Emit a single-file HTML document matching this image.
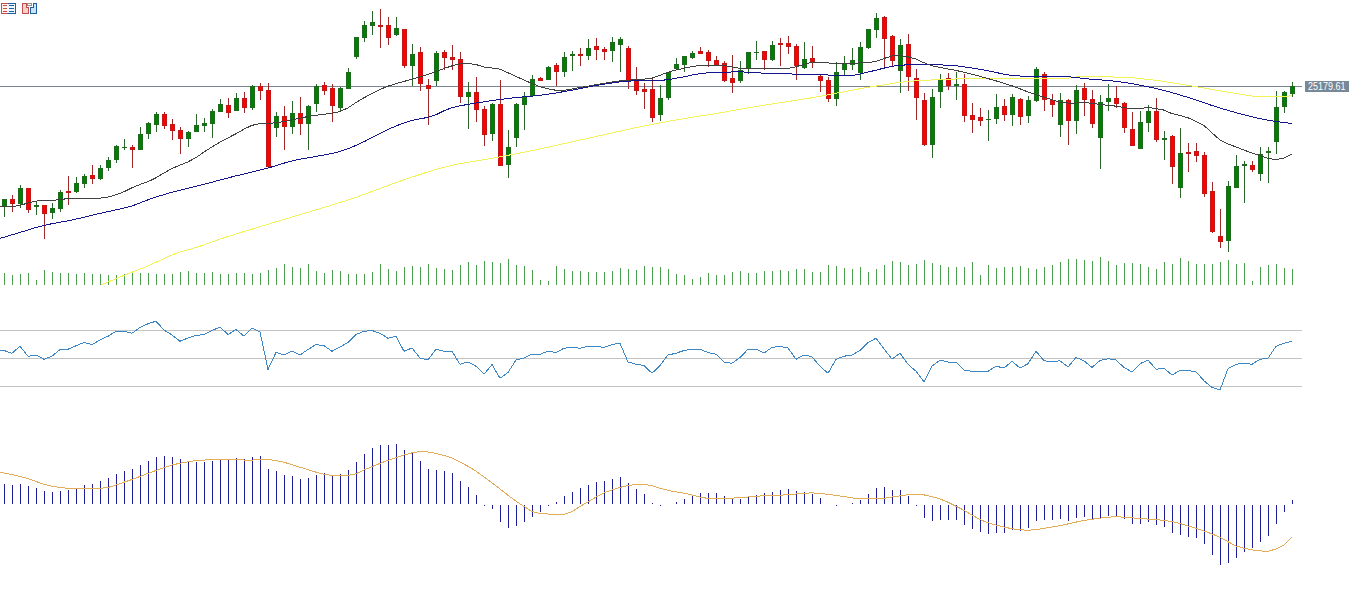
<!DOCTYPE html>
<html><head><meta charset="utf-8"><style>
html,body{margin:0;padding:0;background:#fff;}
body{width:1352px;height:596px;overflow:hidden;}
svg{display:block;}
</style></head><body>
<svg width="1352" height="596" viewBox="0 0 1352 596" shape-rendering="crispEdges">
<rect width="1352" height="596" fill="#ffffff"/>
<defs><clipPath id="mw"><rect x="0" y="0" width="1352" height="287"/></clipPath></defs>
<rect x="0" y="86" width="1302" height="1" fill="#7a8593"/>
<path d="M4.5 273V285 M12.5 275V285 M20.5 274V285 M28.5 273V285 M36.5 280V285 M44.5 270V285 M52.5 272V285 M60.5 273V285 M68.5 273V285 M76.5 274V285 M84.5 273V285 M92.5 274V285 M100.5 274V285 M108.5 275V285 M116.5 275V285 M124.5 274V285 M132.5 273V285 M140.5 273V285 M148.5 273V285 M156.5 274V285 M164.5 274V285 M172.5 274V285 M180.5 272V285 M188.5 271V285 M196.5 273V285 M204.5 273V285 M212.5 272V285 M220.5 274V285 M228.5 274V285 M236.5 273V285 M244.5 273V285 M252.5 274V285 M260.5 273V285 M268.5 270V285 M276.5 268V285 M284.5 264V285 M292.5 267V285 M300.5 268V285 M308.5 264V285 M316.5 271V285 M324.5 273V285 M332.5 270V285 M340.5 271V285 M348.5 274V285 M356.5 274V285 M364.5 274V285 M372.5 272V285 M380.5 264V285 M388.5 269V285 M396.5 271V285 M404.5 267V285 M412.5 266V285 M420.5 267V285 M428.5 264V285 M436.5 268V285 M444.5 269V285 M452.5 270V285 M460.5 265V285 M468.5 262V285 M476.5 265V285 M484.5 261V285 M492.5 262V285 M500.5 263V285 M508.5 259V285 M516.5 265V285 M524.5 266V285 M532.5 270V285 M540.5 280V285 M548.5 281V285 M556.5 266V285 M564.5 269V285 M572.5 271V285 M580.5 271V285 M588.5 272V285 M596.5 272V285 M604.5 272V285 M612.5 271V285 M620.5 268V285 M628.5 269V285 M636.5 270V285 M644.5 266V285 M652.5 267V285 M660.5 267V285 M668.5 269V285 M676.5 274V285 M684.5 275V285 M692.5 279V285 M700.5 277V285 M708.5 273V285 M716.5 275V285 M724.5 275V285 M732.5 272V285 M740.5 271V285 M748.5 273V285 M756.5 273V285 M764.5 271V285 M772.5 271V285 M780.5 270V285 M788.5 271V285 M796.5 269V285 M804.5 269V285 M812.5 272V285 M820.5 272V285 M828.5 265V285 M836.5 266V285 M844.5 268V285 M852.5 269V285 M860.5 267V285 M868.5 272V285 M876.5 269V285 M884.5 265V285 M892.5 261V285 M900.5 262V285 M908.5 265V285 M916.5 264V285 M924.5 260V285 M932.5 263V285 M940.5 265V285 M948.5 267V285 M956.5 267V285 M964.5 267V285 M972.5 262V285 M980.5 275V285 M988.5 265V285 M996.5 268V285 M1004.5 267V285 M1012.5 267V285 M1020.5 266V285 M1028.5 268V285 M1036.5 269V285 M1044.5 267V285 M1052.5 265V285 M1060.5 262V285 M1068.5 259V285 M1076.5 259V285 M1084.5 260V285 M1092.5 261V285 M1100.5 257V285 M1108.5 261V285 M1116.5 265V285 M1124.5 263V285 M1132.5 263V285 M1140.5 264V285 M1148.5 267V285 M1156.5 269V285 M1164.5 262V285 M1172.5 264V285 M1180.5 258V285 M1188.5 261V285 M1196.5 264V285 M1204.5 264V285 M1212.5 264V285 M1220.5 262V285 M1228.5 260V285 M1236.5 264V285 M1244.5 263V285 M1252.5 281V285 M1260.5 267V285 M1268.5 265V285 M1276.5 264V285 M1284.5 268V285 M1292.5 269V285" stroke="#4c9f4c" stroke-width="1" fill="none"/>
<rect x="4" y="199" width="1" height="18" fill="#2a662a"/>
<rect x="2" y="199" width="5" height="8" fill="#206a20"/>
<rect x="3" y="200" width="3" height="6" fill="#008000"/>
<rect x="12" y="195" width="1" height="17" fill="#a02828"/>
<rect x="10" y="199" width="5" height="5" fill="#c01818"/>
<rect x="11" y="200" width="3" height="3" fill="#ff0000"/>
<rect x="20" y="185" width="1" height="23" fill="#2a662a"/>
<rect x="18" y="188" width="5" height="16" fill="#206a20"/>
<rect x="19" y="189" width="3" height="14" fill="#008000"/>
<rect x="28" y="188" width="1" height="25" fill="#a02828"/>
<rect x="26" y="188" width="5" height="22" fill="#c01818"/>
<rect x="27" y="189" width="3" height="20" fill="#ff0000"/>
<rect x="36" y="201" width="1" height="14" fill="#2a662a"/>
<rect x="34" y="205" width="5" height="2" fill="#206a20"/>
<rect x="44" y="205" width="1" height="34" fill="#a02828"/>
<rect x="42" y="205" width="5" height="9" fill="#c01818"/>
<rect x="43" y="206" width="3" height="7" fill="#ff0000"/>
<rect x="52" y="203" width="1" height="16" fill="#2a662a"/>
<rect x="50" y="208" width="5" height="5" fill="#206a20"/>
<rect x="51" y="209" width="3" height="3" fill="#008000"/>
<rect x="60" y="190" width="1" height="22" fill="#2a662a"/>
<rect x="58" y="192" width="5" height="17" fill="#206a20"/>
<rect x="59" y="193" width="3" height="15" fill="#008000"/>
<rect x="68" y="176" width="1" height="29" fill="#a02828"/>
<rect x="66" y="191" width="5" height="2" fill="#c01818"/>
<rect x="76" y="177" width="1" height="16" fill="#2a662a"/>
<rect x="74" y="183" width="5" height="9" fill="#206a20"/>
<rect x="75" y="184" width="3" height="7" fill="#008000"/>
<rect x="84" y="174" width="1" height="14" fill="#2a662a"/>
<rect x="82" y="176" width="5" height="8" fill="#206a20"/>
<rect x="83" y="177" width="3" height="6" fill="#008000"/>
<rect x="92" y="165" width="1" height="19" fill="#a02828"/>
<rect x="90" y="175" width="5" height="4" fill="#c01818"/>
<rect x="91" y="176" width="3" height="2" fill="#ff0000"/>
<rect x="100" y="165" width="1" height="15" fill="#2a662a"/>
<rect x="98" y="168" width="5" height="11" fill="#206a20"/>
<rect x="99" y="169" width="3" height="9" fill="#008000"/>
<rect x="108" y="157" width="1" height="14" fill="#2a662a"/>
<rect x="106" y="160" width="5" height="8" fill="#206a20"/>
<rect x="107" y="161" width="3" height="6" fill="#008000"/>
<rect x="116" y="145" width="1" height="18" fill="#2a662a"/>
<rect x="114" y="146" width="5" height="14" fill="#206a20"/>
<rect x="115" y="147" width="3" height="12" fill="#008000"/>
<rect x="124" y="139" width="1" height="11" fill="#2a662a"/>
<rect x="122" y="147" width="5" height="1" fill="#206a20"/>
<rect x="132" y="145" width="1" height="23" fill="#a02828"/>
<rect x="130" y="147" width="5" height="3" fill="#c01818"/>
<rect x="131" y="148" width="3" height="1" fill="#ff0000"/>
<rect x="140" y="127" width="1" height="23" fill="#2a662a"/>
<rect x="138" y="134" width="5" height="16" fill="#206a20"/>
<rect x="139" y="135" width="3" height="14" fill="#008000"/>
<rect x="148" y="122" width="1" height="17" fill="#2a662a"/>
<rect x="146" y="123" width="5" height="11" fill="#206a20"/>
<rect x="147" y="124" width="3" height="9" fill="#008000"/>
<rect x="156" y="112" width="1" height="20" fill="#2a662a"/>
<rect x="154" y="114" width="5" height="11" fill="#206a20"/>
<rect x="155" y="115" width="3" height="9" fill="#008000"/>
<rect x="164" y="112" width="1" height="17" fill="#a02828"/>
<rect x="162" y="114" width="5" height="12" fill="#c01818"/>
<rect x="163" y="115" width="3" height="10" fill="#ff0000"/>
<rect x="172" y="119" width="1" height="21" fill="#a02828"/>
<rect x="170" y="124" width="5" height="7" fill="#c01818"/>
<rect x="171" y="125" width="3" height="5" fill="#ff0000"/>
<rect x="180" y="127" width="1" height="27" fill="#a02828"/>
<rect x="178" y="130" width="5" height="9" fill="#c01818"/>
<rect x="179" y="131" width="3" height="7" fill="#ff0000"/>
<rect x="188" y="131" width="1" height="16" fill="#2a662a"/>
<rect x="186" y="132" width="5" height="7" fill="#206a20"/>
<rect x="187" y="133" width="3" height="5" fill="#008000"/>
<rect x="196" y="114" width="1" height="18" fill="#2a662a"/>
<rect x="194" y="125" width="5" height="7" fill="#206a20"/>
<rect x="195" y="126" width="3" height="5" fill="#008000"/>
<rect x="204" y="118" width="1" height="14" fill="#2a662a"/>
<rect x="202" y="123" width="5" height="3" fill="#206a20"/>
<rect x="203" y="124" width="3" height="1" fill="#008000"/>
<rect x="212" y="109" width="1" height="29" fill="#2a662a"/>
<rect x="210" y="111" width="5" height="13" fill="#206a20"/>
<rect x="211" y="112" width="3" height="11" fill="#008000"/>
<rect x="220" y="99" width="1" height="13" fill="#2a662a"/>
<rect x="218" y="104" width="5" height="8" fill="#206a20"/>
<rect x="219" y="105" width="3" height="6" fill="#008000"/>
<rect x="228" y="98" width="1" height="20" fill="#a02828"/>
<rect x="226" y="105" width="5" height="8" fill="#c01818"/>
<rect x="227" y="106" width="3" height="6" fill="#ff0000"/>
<rect x="236" y="93" width="1" height="18" fill="#2a662a"/>
<rect x="234" y="98" width="5" height="13" fill="#206a20"/>
<rect x="235" y="99" width="3" height="11" fill="#008000"/>
<rect x="244" y="92" width="1" height="21" fill="#a02828"/>
<rect x="242" y="98" width="5" height="10" fill="#c01818"/>
<rect x="243" y="99" width="3" height="8" fill="#ff0000"/>
<rect x="252" y="85" width="1" height="25" fill="#2a662a"/>
<rect x="250" y="86" width="5" height="22" fill="#206a20"/>
<rect x="251" y="87" width="3" height="20" fill="#008000"/>
<rect x="260" y="83" width="1" height="17" fill="#a02828"/>
<rect x="258" y="86" width="5" height="5" fill="#c01818"/>
<rect x="259" y="87" width="3" height="3" fill="#ff0000"/>
<rect x="268" y="83" width="1" height="85" fill="#a02828"/>
<rect x="266" y="90" width="5" height="77" fill="#c01818"/>
<rect x="267" y="91" width="3" height="75" fill="#ff0000"/>
<rect x="276" y="112" width="1" height="25" fill="#2a662a"/>
<rect x="274" y="116" width="5" height="12" fill="#206a20"/>
<rect x="275" y="117" width="3" height="10" fill="#008000"/>
<rect x="284" y="106" width="1" height="44" fill="#a02828"/>
<rect x="282" y="116" width="5" height="11" fill="#c01818"/>
<rect x="283" y="117" width="3" height="9" fill="#ff0000"/>
<rect x="292" y="101" width="1" height="33" fill="#2a662a"/>
<rect x="290" y="113" width="5" height="14" fill="#206a20"/>
<rect x="291" y="114" width="3" height="12" fill="#008000"/>
<rect x="300" y="97" width="1" height="38" fill="#a02828"/>
<rect x="298" y="113" width="5" height="11" fill="#c01818"/>
<rect x="299" y="114" width="3" height="9" fill="#ff0000"/>
<rect x="308" y="105" width="1" height="45" fill="#2a662a"/>
<rect x="306" y="106" width="5" height="18" fill="#206a20"/>
<rect x="307" y="107" width="3" height="16" fill="#008000"/>
<rect x="316" y="84" width="1" height="28" fill="#2a662a"/>
<rect x="314" y="86" width="5" height="18" fill="#206a20"/>
<rect x="315" y="87" width="3" height="16" fill="#008000"/>
<rect x="324" y="82" width="1" height="13" fill="#a02828"/>
<rect x="322" y="85" width="5" height="6" fill="#c01818"/>
<rect x="323" y="86" width="3" height="4" fill="#ff0000"/>
<rect x="332" y="84" width="1" height="38" fill="#a02828"/>
<rect x="330" y="88" width="5" height="18" fill="#c01818"/>
<rect x="331" y="89" width="3" height="16" fill="#ff0000"/>
<rect x="340" y="87" width="1" height="25" fill="#2a662a"/>
<rect x="338" y="88" width="5" height="20" fill="#206a20"/>
<rect x="339" y="89" width="3" height="18" fill="#008000"/>
<rect x="348" y="68" width="1" height="21" fill="#2a662a"/>
<rect x="346" y="72" width="5" height="17" fill="#206a20"/>
<rect x="347" y="73" width="3" height="15" fill="#008000"/>
<rect x="356" y="37" width="1" height="22" fill="#2a662a"/>
<rect x="354" y="37" width="5" height="20" fill="#206a20"/>
<rect x="355" y="38" width="3" height="18" fill="#008000"/>
<rect x="364" y="21" width="1" height="21" fill="#2a662a"/>
<rect x="362" y="25" width="5" height="13" fill="#206a20"/>
<rect x="363" y="26" width="3" height="11" fill="#008000"/>
<rect x="372" y="11" width="1" height="24" fill="#2a662a"/>
<rect x="370" y="22" width="5" height="4" fill="#206a20"/>
<rect x="371" y="23" width="3" height="2" fill="#008000"/>
<rect x="380" y="9" width="1" height="39" fill="#a02828"/>
<rect x="378" y="25" width="5" height="2" fill="#c01818"/>
<rect x="388" y="17" width="1" height="28" fill="#a02828"/>
<rect x="386" y="25" width="5" height="13" fill="#c01818"/>
<rect x="387" y="26" width="3" height="11" fill="#ff0000"/>
<rect x="396" y="17" width="1" height="19" fill="#2a662a"/>
<rect x="394" y="28" width="5" height="7" fill="#206a20"/>
<rect x="395" y="29" width="3" height="5" fill="#008000"/>
<rect x="404" y="29" width="1" height="39" fill="#a02828"/>
<rect x="402" y="29" width="5" height="37" fill="#c01818"/>
<rect x="403" y="30" width="3" height="35" fill="#ff0000"/>
<rect x="412" y="44" width="1" height="42" fill="#2a662a"/>
<rect x="410" y="54" width="5" height="12" fill="#206a20"/>
<rect x="411" y="55" width="3" height="10" fill="#008000"/>
<rect x="420" y="47" width="1" height="44" fill="#a02828"/>
<rect x="418" y="52" width="5" height="32" fill="#c01818"/>
<rect x="419" y="53" width="3" height="30" fill="#ff0000"/>
<rect x="428" y="79" width="1" height="46" fill="#a02828"/>
<rect x="426" y="85" width="5" height="4" fill="#c01818"/>
<rect x="427" y="86" width="3" height="2" fill="#ff0000"/>
<rect x="436" y="51" width="1" height="35" fill="#2a662a"/>
<rect x="434" y="53" width="5" height="28" fill="#206a20"/>
<rect x="435" y="54" width="3" height="26" fill="#008000"/>
<rect x="444" y="50" width="1" height="20" fill="#a02828"/>
<rect x="442" y="52" width="5" height="6" fill="#c01818"/>
<rect x="443" y="53" width="3" height="4" fill="#ff0000"/>
<rect x="452" y="45" width="1" height="25" fill="#a02828"/>
<rect x="450" y="57" width="5" height="3" fill="#c01818"/>
<rect x="451" y="58" width="3" height="1" fill="#ff0000"/>
<rect x="460" y="52" width="1" height="51" fill="#a02828"/>
<rect x="458" y="59" width="5" height="38" fill="#c01818"/>
<rect x="459" y="60" width="3" height="36" fill="#ff0000"/>
<rect x="468" y="82" width="1" height="47" fill="#2a662a"/>
<rect x="466" y="92" width="5" height="5" fill="#206a20"/>
<rect x="467" y="93" width="3" height="3" fill="#008000"/>
<rect x="476" y="77" width="1" height="45" fill="#a02828"/>
<rect x="474" y="92" width="5" height="18" fill="#c01818"/>
<rect x="475" y="93" width="3" height="16" fill="#ff0000"/>
<rect x="484" y="106" width="1" height="40" fill="#a02828"/>
<rect x="482" y="109" width="5" height="26" fill="#c01818"/>
<rect x="483" y="110" width="3" height="24" fill="#ff0000"/>
<rect x="492" y="103" width="1" height="38" fill="#2a662a"/>
<rect x="490" y="104" width="5" height="30" fill="#206a20"/>
<rect x="491" y="105" width="3" height="28" fill="#008000"/>
<rect x="500" y="80" width="1" height="86" fill="#a02828"/>
<rect x="498" y="104" width="5" height="62" fill="#c01818"/>
<rect x="499" y="105" width="3" height="60" fill="#ff0000"/>
<rect x="508" y="130" width="1" height="48" fill="#2a662a"/>
<rect x="506" y="147" width="5" height="18" fill="#206a20"/>
<rect x="507" y="148" width="3" height="16" fill="#008000"/>
<rect x="516" y="103" width="1" height="44" fill="#2a662a"/>
<rect x="514" y="104" width="5" height="34" fill="#206a20"/>
<rect x="515" y="105" width="3" height="32" fill="#008000"/>
<rect x="524" y="92" width="1" height="38" fill="#2a662a"/>
<rect x="522" y="97" width="5" height="8" fill="#206a20"/>
<rect x="523" y="98" width="3" height="6" fill="#008000"/>
<rect x="532" y="75" width="1" height="22" fill="#2a662a"/>
<rect x="530" y="79" width="5" height="17" fill="#206a20"/>
<rect x="531" y="80" width="3" height="15" fill="#008000"/>
<rect x="540" y="77" width="1" height="4" fill="#a02828"/>
<rect x="538" y="78" width="5" height="3" fill="#c01818"/>
<rect x="539" y="79" width="3" height="1" fill="#ff0000"/>
<rect x="548" y="66" width="1" height="14" fill="#2a662a"/>
<rect x="546" y="67" width="5" height="13" fill="#206a20"/>
<rect x="547" y="68" width="3" height="11" fill="#008000"/>
<rect x="556" y="63" width="1" height="23" fill="#a02828"/>
<rect x="554" y="65" width="5" height="7" fill="#c01818"/>
<rect x="555" y="66" width="3" height="5" fill="#ff0000"/>
<rect x="564" y="52" width="1" height="25" fill="#2a662a"/>
<rect x="562" y="57" width="5" height="15" fill="#206a20"/>
<rect x="563" y="58" width="3" height="13" fill="#008000"/>
<rect x="572" y="51" width="1" height="20" fill="#2a662a"/>
<rect x="570" y="54" width="5" height="2" fill="#206a20"/>
<rect x="580" y="48" width="1" height="18" fill="#a02828"/>
<rect x="578" y="54" width="5" height="2" fill="#c01818"/>
<rect x="588" y="39" width="1" height="21" fill="#2a662a"/>
<rect x="586" y="48" width="5" height="8" fill="#206a20"/>
<rect x="587" y="49" width="3" height="6" fill="#008000"/>
<rect x="596" y="38" width="1" height="22" fill="#a02828"/>
<rect x="594" y="46" width="5" height="4" fill="#c01818"/>
<rect x="595" y="47" width="3" height="2" fill="#ff0000"/>
<rect x="604" y="47" width="1" height="13" fill="#a02828"/>
<rect x="602" y="49" width="5" height="3" fill="#c01818"/>
<rect x="603" y="50" width="3" height="1" fill="#ff0000"/>
<rect x="612" y="37" width="1" height="25" fill="#2a662a"/>
<rect x="610" y="42" width="5" height="9" fill="#206a20"/>
<rect x="611" y="43" width="3" height="7" fill="#008000"/>
<rect x="620" y="37" width="1" height="35" fill="#2a662a"/>
<rect x="618" y="39" width="5" height="6" fill="#206a20"/>
<rect x="619" y="40" width="3" height="4" fill="#008000"/>
<rect x="628" y="46" width="1" height="43" fill="#a02828"/>
<rect x="626" y="48" width="5" height="33" fill="#c01818"/>
<rect x="627" y="49" width="3" height="31" fill="#ff0000"/>
<rect x="636" y="67" width="1" height="28" fill="#a02828"/>
<rect x="634" y="81" width="5" height="10" fill="#c01818"/>
<rect x="635" y="82" width="3" height="8" fill="#ff0000"/>
<rect x="644" y="83" width="1" height="26" fill="#a02828"/>
<rect x="642" y="89" width="5" height="3" fill="#c01818"/>
<rect x="643" y="90" width="3" height="1" fill="#ff0000"/>
<rect x="652" y="79" width="1" height="43" fill="#a02828"/>
<rect x="650" y="89" width="5" height="29" fill="#c01818"/>
<rect x="651" y="90" width="3" height="27" fill="#ff0000"/>
<rect x="660" y="85" width="1" height="36" fill="#2a662a"/>
<rect x="658" y="98" width="5" height="17" fill="#206a20"/>
<rect x="659" y="99" width="3" height="15" fill="#008000"/>
<rect x="668" y="72" width="1" height="28" fill="#2a662a"/>
<rect x="666" y="72" width="5" height="26" fill="#206a20"/>
<rect x="667" y="73" width="3" height="24" fill="#008000"/>
<rect x="676" y="58" width="1" height="12" fill="#2a662a"/>
<rect x="674" y="64" width="5" height="5" fill="#206a20"/>
<rect x="675" y="65" width="3" height="3" fill="#008000"/>
<rect x="684" y="56" width="1" height="16" fill="#2a662a"/>
<rect x="682" y="56" width="5" height="9" fill="#206a20"/>
<rect x="683" y="57" width="3" height="7" fill="#008000"/>
<rect x="692" y="51" width="1" height="8" fill="#2a662a"/>
<rect x="690" y="53" width="5" height="5" fill="#206a20"/>
<rect x="691" y="54" width="3" height="3" fill="#008000"/>
<rect x="700" y="47" width="1" height="7" fill="#a02828"/>
<rect x="698" y="51" width="5" height="3" fill="#c01818"/>
<rect x="699" y="52" width="3" height="1" fill="#ff0000"/>
<rect x="708" y="50" width="1" height="17" fill="#a02828"/>
<rect x="706" y="52" width="5" height="9" fill="#c01818"/>
<rect x="707" y="53" width="3" height="7" fill="#ff0000"/>
<rect x="716" y="56" width="1" height="9" fill="#a02828"/>
<rect x="714" y="60" width="5" height="5" fill="#c01818"/>
<rect x="715" y="61" width="3" height="3" fill="#ff0000"/>
<rect x="724" y="61" width="1" height="21" fill="#a02828"/>
<rect x="722" y="63" width="5" height="18" fill="#c01818"/>
<rect x="723" y="64" width="3" height="16" fill="#ff0000"/>
<rect x="732" y="55" width="1" height="38" fill="#a02828"/>
<rect x="730" y="78" width="5" height="5" fill="#c01818"/>
<rect x="731" y="79" width="3" height="3" fill="#ff0000"/>
<rect x="740" y="61" width="1" height="22" fill="#2a662a"/>
<rect x="738" y="70" width="5" height="11" fill="#206a20"/>
<rect x="739" y="71" width="3" height="9" fill="#008000"/>
<rect x="748" y="52" width="1" height="22" fill="#2a662a"/>
<rect x="746" y="52" width="5" height="17" fill="#206a20"/>
<rect x="747" y="53" width="3" height="15" fill="#008000"/>
<rect x="756" y="41" width="1" height="19" fill="#2a662a"/>
<rect x="754" y="52" width="5" height="1" fill="#206a20"/>
<rect x="764" y="51" width="1" height="19" fill="#a02828"/>
<rect x="762" y="51" width="5" height="9" fill="#c01818"/>
<rect x="763" y="52" width="3" height="7" fill="#ff0000"/>
<rect x="772" y="41" width="1" height="20" fill="#2a662a"/>
<rect x="770" y="45" width="5" height="15" fill="#206a20"/>
<rect x="771" y="46" width="3" height="13" fill="#008000"/>
<rect x="780" y="38" width="1" height="28" fill="#a02828"/>
<rect x="778" y="43" width="5" height="2" fill="#c01818"/>
<rect x="788" y="36" width="1" height="18" fill="#a02828"/>
<rect x="786" y="43" width="5" height="4" fill="#c01818"/>
<rect x="787" y="44" width="3" height="2" fill="#ff0000"/>
<rect x="796" y="44" width="1" height="36" fill="#a02828"/>
<rect x="794" y="46" width="5" height="20" fill="#c01818"/>
<rect x="795" y="47" width="3" height="18" fill="#ff0000"/>
<rect x="804" y="42" width="1" height="27" fill="#2a662a"/>
<rect x="802" y="59" width="5" height="9" fill="#206a20"/>
<rect x="803" y="60" width="3" height="7" fill="#008000"/>
<rect x="812" y="46" width="1" height="22" fill="#a02828"/>
<rect x="810" y="58" width="5" height="4" fill="#c01818"/>
<rect x="811" y="59" width="3" height="2" fill="#ff0000"/>
<rect x="820" y="75" width="1" height="17" fill="#a02828"/>
<rect x="818" y="76" width="5" height="5" fill="#c01818"/>
<rect x="819" y="77" width="3" height="3" fill="#ff0000"/>
<rect x="828" y="77" width="1" height="25" fill="#a02828"/>
<rect x="826" y="80" width="5" height="19" fill="#c01818"/>
<rect x="827" y="81" width="3" height="17" fill="#ff0000"/>
<rect x="836" y="62" width="1" height="44" fill="#2a662a"/>
<rect x="834" y="72" width="5" height="27" fill="#206a20"/>
<rect x="835" y="73" width="3" height="25" fill="#008000"/>
<rect x="844" y="56" width="1" height="19" fill="#2a662a"/>
<rect x="842" y="63" width="5" height="7" fill="#206a20"/>
<rect x="843" y="64" width="3" height="5" fill="#008000"/>
<rect x="852" y="48" width="1" height="22" fill="#2a662a"/>
<rect x="850" y="60" width="5" height="5" fill="#206a20"/>
<rect x="851" y="61" width="3" height="3" fill="#008000"/>
<rect x="860" y="42" width="1" height="38" fill="#2a662a"/>
<rect x="858" y="47" width="5" height="26" fill="#206a20"/>
<rect x="859" y="48" width="3" height="24" fill="#008000"/>
<rect x="868" y="29" width="1" height="20" fill="#2a662a"/>
<rect x="866" y="29" width="5" height="19" fill="#206a20"/>
<rect x="867" y="30" width="3" height="17" fill="#008000"/>
<rect x="876" y="13" width="1" height="25" fill="#2a662a"/>
<rect x="874" y="18" width="5" height="12" fill="#206a20"/>
<rect x="875" y="19" width="3" height="10" fill="#008000"/>
<rect x="884" y="16" width="1" height="52" fill="#a02828"/>
<rect x="882" y="17" width="5" height="22" fill="#c01818"/>
<rect x="883" y="18" width="3" height="20" fill="#ff0000"/>
<rect x="892" y="35" width="1" height="32" fill="#a02828"/>
<rect x="890" y="36" width="5" height="25" fill="#c01818"/>
<rect x="891" y="37" width="3" height="23" fill="#ff0000"/>
<rect x="900" y="39" width="1" height="54" fill="#2a662a"/>
<rect x="898" y="45" width="5" height="26" fill="#206a20"/>
<rect x="899" y="46" width="3" height="24" fill="#008000"/>
<rect x="908" y="34" width="1" height="57" fill="#a02828"/>
<rect x="906" y="44" width="5" height="33" fill="#c01818"/>
<rect x="907" y="45" width="3" height="31" fill="#ff0000"/>
<rect x="916" y="69" width="1" height="51" fill="#a02828"/>
<rect x="914" y="78" width="5" height="20" fill="#c01818"/>
<rect x="915" y="79" width="3" height="18" fill="#ff0000"/>
<rect x="924" y="93" width="1" height="53" fill="#a02828"/>
<rect x="922" y="100" width="5" height="45" fill="#c01818"/>
<rect x="923" y="101" width="3" height="43" fill="#ff0000"/>
<rect x="932" y="89" width="1" height="69" fill="#2a662a"/>
<rect x="930" y="97" width="5" height="48" fill="#206a20"/>
<rect x="931" y="98" width="3" height="46" fill="#008000"/>
<rect x="940" y="74" width="1" height="34" fill="#2a662a"/>
<rect x="938" y="80" width="5" height="12" fill="#206a20"/>
<rect x="939" y="81" width="3" height="10" fill="#008000"/>
<rect x="948" y="73" width="1" height="17" fill="#a02828"/>
<rect x="946" y="78" width="5" height="8" fill="#c01818"/>
<rect x="947" y="79" width="3" height="6" fill="#ff0000"/>
<rect x="956" y="72" width="1" height="28" fill="#2a662a"/>
<rect x="954" y="84" width="5" height="2" fill="#206a20"/>
<rect x="964" y="74" width="1" height="48" fill="#a02828"/>
<rect x="962" y="84" width="5" height="32" fill="#c01818"/>
<rect x="963" y="85" width="3" height="30" fill="#ff0000"/>
<rect x="972" y="103" width="1" height="30" fill="#a02828"/>
<rect x="970" y="115" width="5" height="5" fill="#c01818"/>
<rect x="971" y="116" width="3" height="3" fill="#ff0000"/>
<rect x="980" y="108" width="1" height="18" fill="#a02828"/>
<rect x="978" y="117" width="5" height="4" fill="#c01818"/>
<rect x="979" y="118" width="3" height="2" fill="#ff0000"/>
<rect x="988" y="110" width="1" height="31" fill="#2a662a"/>
<rect x="986" y="119" width="5" height="1" fill="#206a20"/>
<rect x="996" y="94" width="1" height="30" fill="#2a662a"/>
<rect x="994" y="107" width="5" height="12" fill="#206a20"/>
<rect x="995" y="108" width="3" height="10" fill="#008000"/>
<rect x="1004" y="99" width="1" height="22" fill="#a02828"/>
<rect x="1002" y="106" width="5" height="9" fill="#c01818"/>
<rect x="1003" y="107" width="3" height="7" fill="#ff0000"/>
<rect x="1012" y="94" width="1" height="32" fill="#2a662a"/>
<rect x="1010" y="97" width="5" height="18" fill="#206a20"/>
<rect x="1011" y="98" width="3" height="16" fill="#008000"/>
<rect x="1020" y="98" width="1" height="27" fill="#a02828"/>
<rect x="1018" y="99" width="5" height="18" fill="#c01818"/>
<rect x="1019" y="100" width="3" height="16" fill="#ff0000"/>
<rect x="1028" y="96" width="1" height="27" fill="#2a662a"/>
<rect x="1026" y="100" width="5" height="16" fill="#206a20"/>
<rect x="1027" y="101" width="3" height="14" fill="#008000"/>
<rect x="1036" y="67" width="1" height="35" fill="#2a662a"/>
<rect x="1034" y="69" width="5" height="32" fill="#206a20"/>
<rect x="1035" y="70" width="3" height="30" fill="#008000"/>
<rect x="1044" y="72" width="1" height="39" fill="#a02828"/>
<rect x="1042" y="74" width="5" height="26" fill="#c01818"/>
<rect x="1043" y="75" width="3" height="24" fill="#ff0000"/>
<rect x="1052" y="94" width="1" height="23" fill="#a02828"/>
<rect x="1050" y="100" width="5" height="5" fill="#c01818"/>
<rect x="1051" y="101" width="3" height="3" fill="#ff0000"/>
<rect x="1060" y="93" width="1" height="44" fill="#2a662a"/>
<rect x="1058" y="100" width="5" height="25" fill="#206a20"/>
<rect x="1059" y="101" width="3" height="23" fill="#008000"/>
<rect x="1068" y="99" width="1" height="46" fill="#a02828"/>
<rect x="1066" y="100" width="5" height="21" fill="#c01818"/>
<rect x="1067" y="101" width="3" height="19" fill="#ff0000"/>
<rect x="1076" y="85" width="1" height="49" fill="#2a662a"/>
<rect x="1074" y="90" width="5" height="31" fill="#206a20"/>
<rect x="1075" y="91" width="3" height="29" fill="#008000"/>
<rect x="1084" y="83" width="1" height="33" fill="#a02828"/>
<rect x="1082" y="88" width="5" height="12" fill="#c01818"/>
<rect x="1083" y="89" width="3" height="10" fill="#ff0000"/>
<rect x="1092" y="90" width="1" height="38" fill="#a02828"/>
<rect x="1090" y="99" width="5" height="25" fill="#c01818"/>
<rect x="1091" y="100" width="3" height="23" fill="#ff0000"/>
<rect x="1100" y="95" width="1" height="74" fill="#2a662a"/>
<rect x="1098" y="102" width="5" height="36" fill="#206a20"/>
<rect x="1099" y="103" width="3" height="34" fill="#008000"/>
<rect x="1108" y="84" width="1" height="27" fill="#2a662a"/>
<rect x="1106" y="98" width="5" height="4" fill="#206a20"/>
<rect x="1107" y="99" width="3" height="2" fill="#008000"/>
<rect x="1116" y="86" width="1" height="22" fill="#a02828"/>
<rect x="1114" y="98" width="5" height="6" fill="#c01818"/>
<rect x="1115" y="99" width="3" height="4" fill="#ff0000"/>
<rect x="1124" y="102" width="1" height="31" fill="#a02828"/>
<rect x="1122" y="103" width="5" height="25" fill="#c01818"/>
<rect x="1123" y="104" width="3" height="23" fill="#ff0000"/>
<rect x="1132" y="112" width="1" height="34" fill="#a02828"/>
<rect x="1130" y="129" width="5" height="17" fill="#c01818"/>
<rect x="1131" y="130" width="3" height="15" fill="#ff0000"/>
<rect x="1140" y="111" width="1" height="38" fill="#2a662a"/>
<rect x="1138" y="122" width="5" height="27" fill="#206a20"/>
<rect x="1139" y="123" width="3" height="25" fill="#008000"/>
<rect x="1148" y="105" width="1" height="27" fill="#2a662a"/>
<rect x="1146" y="111" width="5" height="12" fill="#206a20"/>
<rect x="1147" y="112" width="3" height="10" fill="#008000"/>
<rect x="1156" y="98" width="1" height="44" fill="#a02828"/>
<rect x="1154" y="111" width="5" height="29" fill="#c01818"/>
<rect x="1155" y="112" width="3" height="27" fill="#ff0000"/>
<rect x="1164" y="131" width="1" height="29" fill="#2a662a"/>
<rect x="1162" y="138" width="5" height="2" fill="#206a20"/>
<rect x="1172" y="135" width="1" height="49" fill="#a02828"/>
<rect x="1170" y="136" width="5" height="31" fill="#c01818"/>
<rect x="1171" y="137" width="3" height="29" fill="#ff0000"/>
<rect x="1180" y="128" width="1" height="70" fill="#2a662a"/>
<rect x="1178" y="153" width="5" height="35" fill="#206a20"/>
<rect x="1179" y="154" width="3" height="33" fill="#008000"/>
<rect x="1188" y="143" width="1" height="29" fill="#a02828"/>
<rect x="1186" y="152" width="5" height="2" fill="#c01818"/>
<rect x="1196" y="143" width="1" height="19" fill="#a02828"/>
<rect x="1194" y="151" width="5" height="5" fill="#c01818"/>
<rect x="1195" y="152" width="3" height="3" fill="#ff0000"/>
<rect x="1204" y="152" width="1" height="45" fill="#a02828"/>
<rect x="1202" y="155" width="5" height="39" fill="#c01818"/>
<rect x="1203" y="156" width="3" height="37" fill="#ff0000"/>
<rect x="1212" y="182" width="1" height="51" fill="#a02828"/>
<rect x="1210" y="191" width="5" height="41" fill="#c01818"/>
<rect x="1211" y="192" width="3" height="39" fill="#ff0000"/>
<rect x="1220" y="209" width="1" height="39" fill="#a02828"/>
<rect x="1218" y="236" width="5" height="6" fill="#c01818"/>
<rect x="1219" y="237" width="3" height="4" fill="#ff0000"/>
<rect x="1228" y="181" width="1" height="71" fill="#2a662a"/>
<rect x="1226" y="186" width="5" height="55" fill="#206a20"/>
<rect x="1227" y="187" width="3" height="53" fill="#008000"/>
<rect x="1236" y="155" width="1" height="33" fill="#2a662a"/>
<rect x="1234" y="166" width="5" height="22" fill="#206a20"/>
<rect x="1235" y="167" width="3" height="20" fill="#008000"/>
<rect x="1244" y="161" width="1" height="42" fill="#2a662a"/>
<rect x="1242" y="164" width="5" height="2" fill="#206a20"/>
<rect x="1252" y="161" width="1" height="11" fill="#a02828"/>
<rect x="1250" y="165" width="5" height="5" fill="#c01818"/>
<rect x="1251" y="166" width="3" height="3" fill="#ff0000"/>
<rect x="1260" y="147" width="1" height="34" fill="#2a662a"/>
<rect x="1258" y="154" width="5" height="20" fill="#206a20"/>
<rect x="1259" y="155" width="3" height="18" fill="#008000"/>
<rect x="1268" y="147" width="1" height="36" fill="#2a662a"/>
<rect x="1266" y="151" width="5" height="2" fill="#206a20"/>
<rect x="1276" y="91" width="1" height="63" fill="#2a662a"/>
<rect x="1274" y="107" width="5" height="35" fill="#206a20"/>
<rect x="1275" y="108" width="3" height="33" fill="#008000"/>
<rect x="1284" y="91" width="1" height="22" fill="#2a662a"/>
<rect x="1282" y="92" width="5" height="15" fill="#206a20"/>
<rect x="1283" y="93" width="3" height="13" fill="#008000"/>
<rect x="1292" y="82" width="1" height="15" fill="#2a662a"/>
<rect x="1290" y="86" width="5" height="8" fill="#206a20"/>
<rect x="1291" y="87" width="3" height="6" fill="#008000"/>
<polyline points="101.0,285.00 108.0,282.04 116.0,278.70 124.0,275.41 132.0,272.20 140.0,269.06 148.0,265.84 156.0,262.29 164.0,258.46 172.0,254.90 180.0,252.08 188.0,249.76 196.0,247.50 204.0,244.87 212.0,241.92 220.0,239.13 228.0,236.53 236.0,234.02 244.0,231.56 252.0,229.15 260.0,226.74 268.0,224.31 276.0,221.86 284.0,219.42 292.0,217.00 300.0,214.61 308.0,212.23 316.0,209.85 324.0,207.44 332.0,204.99 340.0,202.49 348.0,199.92 356.0,197.24 364.0,194.42 372.0,191.49 380.0,188.52 388.0,185.55 396.0,182.63 404.0,179.81 412.0,177.14 420.0,174.51 428.0,171.89 436.0,169.40 444.0,167.15 452.0,165.23 460.0,163.64 468.0,162.26 476.0,160.98 484.0,159.70 492.0,158.31 500.0,156.82 508.0,155.30 516.0,153.75 524.0,152.16 532.0,150.55 540.0,148.90 548.0,147.20 556.0,145.43 564.0,143.63 572.0,141.84 580.0,140.07 588.0,138.31 596.0,136.52 604.0,134.73 612.0,132.94 620.0,131.16 628.0,129.40 636.0,127.68 644.0,126.01 652.0,124.39 660.0,122.85 668.0,121.39 676.0,120.00 684.0,118.67 692.0,117.37 700.0,116.08 708.0,114.79 716.0,113.48 724.0,112.12 732.0,110.72 740.0,109.31 748.0,107.90 756.0,106.52 764.0,105.19 772.0,103.94 780.0,102.73 788.0,101.54 796.0,100.33 804.0,99.08 812.0,97.76 820.0,96.34 828.0,94.83 836.0,93.28 844.0,91.73 852.0,90.20 860.0,88.74 868.0,87.38 876.0,86.10 884.0,84.78 892.0,83.50 900.0,82.35 908.0,81.43 916.0,80.82 924.0,80.36 932.0,79.93 940.0,79.55 948.0,79.23 956.0,78.99 964.0,78.84 972.0,78.80 980.0,78.80 988.0,78.80 996.0,78.80 1004.0,78.80 1012.0,78.80 1020.0,78.80 1028.0,78.80 1036.0,78.80 1044.0,78.80 1052.0,78.80 1060.0,78.80 1068.0,78.10 1076.0,77.01 1084.0,76.80 1092.0,76.83 1100.0,76.88 1108.0,76.95 1116.0,77.04 1124.0,77.21 1132.0,77.73 1140.0,78.53 1148.0,79.42 1156.0,80.35 1164.0,81.47 1172.0,82.72 1180.0,84.04 1188.0,85.36 1196.0,86.67 1204.0,88.05 1212.0,89.46 1220.0,90.85 1228.0,92.15 1236.0,93.41 1244.0,94.81 1252.0,96.00 1260.0,96.59 1268.0,96.59 1276.0,96.51 1284.0,96.28 1292.0,95.80" fill="none" stroke="#f2f25a" stroke-width="1" />
<polyline points="0.0,238.40 4.0,237.20 12.0,234.81 20.0,232.43 28.0,229.97 36.0,227.51 44.0,225.37 52.0,223.70 60.0,222.27 68.0,220.81 76.0,219.10 84.0,217.24 92.0,215.30 100.0,213.37 108.0,211.57 116.0,209.90 124.0,208.11 132.0,205.97 140.0,202.89 148.0,199.82 156.0,197.08 164.0,194.57 172.0,192.25 180.0,190.15 188.0,188.22 196.0,186.32 204.0,184.30 212.0,182.18 220.0,180.03 228.0,177.91 236.0,175.87 244.0,173.94 252.0,172.05 260.0,170.11 268.0,168.04 276.0,165.69 284.0,163.13 292.0,160.94 300.0,159.23 308.0,157.78 316.0,156.43 324.0,155.02 332.0,153.41 340.0,151.44 348.0,148.74 356.0,145.34 364.0,141.73 372.0,137.66 380.0,133.41 388.0,129.44 396.0,126.01 404.0,122.87 412.0,120.42 420.0,118.85 428.0,117.37 436.0,114.78 444.0,110.81 452.0,107.68 460.0,105.84 468.0,104.37 476.0,103.01 484.0,101.78 492.0,100.63 500.0,99.49 508.0,98.43 516.0,97.54 524.0,96.82 532.0,96.13 540.0,95.30 548.0,94.22 556.0,92.95 564.0,91.58 572.0,90.18 580.0,88.64 588.0,87.03 596.0,85.52 604.0,84.24 612.0,82.98 620.0,81.86 628.0,81.12 636.0,80.85 644.0,80.73 652.0,80.62 660.0,80.43 668.0,79.68 676.0,78.27 684.0,76.84 692.0,75.09 700.0,73.54 708.0,72.85 716.0,72.47 724.0,72.18 732.0,71.98 740.0,71.90 748.0,72.10 756.0,72.66 764.0,73.24 772.0,73.54 780.0,73.76 788.0,73.93 796.0,74.09 804.0,74.26 812.0,74.45 820.0,74.71 828.0,75.00 836.0,75.27 844.0,75.45 852.0,75.45 860.0,74.11 868.0,72.04 876.0,70.20 884.0,68.11 892.0,66.28 900.0,65.30 908.0,64.78 916.0,64.46 924.0,64.42 932.0,64.57 940.0,64.87 948.0,65.25 956.0,65.79 964.0,66.79 972.0,68.04 980.0,69.33 988.0,70.74 996.0,72.48 1004.0,74.18 1012.0,75.48 1020.0,76.01 1028.0,76.07 1036.0,76.11 1044.0,76.14 1052.0,76.20 1060.0,76.35 1068.0,76.69 1076.0,77.55 1084.0,78.58 1092.0,79.33 1100.0,79.88 1108.0,80.49 1116.0,81.35 1124.0,82.43 1132.0,83.71 1140.0,85.14 1148.0,86.70 1156.0,88.40 1164.0,90.40 1172.0,92.62 1180.0,94.98 1188.0,97.39 1196.0,99.94 1204.0,102.72 1212.0,105.50 1220.0,108.04 1228.0,110.34 1236.0,112.62 1244.0,114.80 1252.0,116.84 1260.0,118.68 1268.0,120.24 1276.0,121.51 1284.0,122.57 1292.0,123.40" fill="none" stroke="#14148c" stroke-width="1" />
<polyline points="0.0,206.70 4.0,206.70 12.0,206.70 20.0,205.36 28.0,202.92 36.0,201.09 44.0,200.45 52.0,200.26 60.0,199.74 68.0,198.44 76.0,198.10 84.0,198.10 92.0,198.10 100.0,198.10 108.0,197.12 116.0,194.83 124.0,191.75 132.0,187.79 140.0,184.49 148.0,181.65 156.0,177.81 164.0,172.92 172.0,168.47 180.0,165.13 188.0,161.88 196.0,157.57 204.0,152.10 212.0,146.84 220.0,142.20 228.0,137.87 236.0,133.70 244.0,129.14 252.0,125.33 260.0,123.59 268.0,123.37 276.0,122.80 284.0,121.56 292.0,119.91 300.0,118.13 308.0,116.50 316.0,115.26 324.0,114.27 332.0,113.15 340.0,111.53 348.0,107.89 356.0,102.44 364.0,97.75 372.0,93.43 380.0,89.44 388.0,86.17 396.0,83.63 404.0,81.43 412.0,79.18 420.0,76.88 428.0,74.50 436.0,71.67 444.0,68.47 452.0,65.84 460.0,63.67 468.0,63.59 476.0,64.50 484.0,67.12 492.0,67.98 500.0,69.09 508.0,72.76 516.0,76.44 524.0,80.02 532.0,83.51 540.0,86.70 548.0,88.81 556.0,90.27 564.0,90.30 572.0,89.00 580.0,87.45 588.0,86.11 596.0,84.74 604.0,83.39 612.0,82.00 620.0,80.86 628.0,80.16 636.0,79.69 644.0,79.13 652.0,78.18 660.0,75.39 668.0,72.17 676.0,70.05 684.0,68.26 692.0,66.71 700.0,65.33 708.0,65.30 716.0,65.30 724.0,65.46 732.0,66.97 740.0,68.26 748.0,68.30 756.0,68.30 764.0,68.33 772.0,68.62 780.0,68.89 788.0,68.39 796.0,66.75 804.0,64.41 812.0,62.22 820.0,62.51 828.0,62.97 836.0,63.34 844.0,63.38 852.0,63.23 860.0,62.94 868.0,62.54 876.0,61.37 884.0,58.51 892.0,55.93 900.0,55.57 908.0,56.85 916.0,59.08 924.0,62.77 932.0,65.72 940.0,67.53 948.0,68.99 956.0,70.45 964.0,72.20 972.0,74.21 980.0,76.35 988.0,78.59 996.0,80.87 1004.0,83.26 1012.0,85.84 1020.0,88.83 1028.0,91.95 1036.0,94.68 1044.0,97.14 1052.0,99.58 1060.0,102.57 1068.0,103.00 1076.0,103.00 1084.0,102.85 1092.0,103.09 1100.0,104.45 1108.0,105.40 1116.0,106.15 1124.0,107.58 1132.0,108.70 1140.0,108.70 1148.0,107.23 1156.0,108.64 1164.0,110.09 1172.0,113.62 1180.0,115.50 1188.0,117.80 1196.0,121.31 1204.0,125.43 1212.0,132.84 1220.0,140.00 1228.0,143.92 1236.0,146.98 1244.0,150.08 1252.0,153.13 1260.0,155.78 1268.0,158.44 1276.0,159.59 1284.0,158.05 1292.0,154.20" fill="none" stroke="#404040" stroke-width="1" />
<rect x="0" y="330" width="1302" height="1" fill="#c3c3c3"/>
<rect x="0" y="358" width="1302" height="1" fill="#c3c3c3"/>
<rect x="0" y="386" width="1302" height="1" fill="#c3c3c3"/>
<polyline points="0.0,350.50 4.0,350.50 12.0,353.25 20.0,346.25 28.0,356.25 36.0,355.00 44.0,359.25 52.0,356.25 60.0,349.50 68.0,349.25 76.0,345.75 84.0,342.50 92.0,344.50 100.0,340.00 108.0,336.25 116.0,331.25 124.0,331.25 132.0,333.25 140.0,327.50 148.0,323.75 156.0,321.25 164.0,330.00 172.0,335.00 180.0,341.25 188.0,338.00 196.0,335.50 204.0,334.50 212.0,330.50 220.0,327.00 228.0,334.50 236.0,329.50 244.0,336.25 252.0,328.25 260.0,331.75 268.0,369.50 276.0,352.50 284.0,355.00 292.0,351.25 300.0,355.00 308.0,349.50 316.0,344.50 324.0,345.75 332.0,351.25 340.0,347.00 348.0,342.50 356.0,334.50 364.0,331.25 372.0,330.50 380.0,333.25 388.0,338.25 396.0,336.25 404.0,351.25 412.0,348.00 420.0,358.00 428.0,360.00 436.0,349.25 444.0,351.25 452.0,351.25 460.0,364.25 468.0,362.00 476.0,366.25 484.0,374.25 492.0,364.50 500.0,378.25 508.0,372.50 516.0,360.00 524.0,358.00 532.0,354.25 540.0,354.25 548.0,351.25 556.0,352.50 564.0,348.25 572.0,347.00 580.0,348.25 588.0,346.25 596.0,346.25 604.0,347.50 612.0,344.50 620.0,343.25 628.0,362.00 636.0,364.25 644.0,365.50 652.0,373.25 660.0,365.50 668.0,355.00 676.0,353.25 684.0,350.50 692.0,349.25 700.0,349.25 708.0,352.50 716.0,354.25 724.0,362.00 732.0,363.25 740.0,357.50 748.0,349.25 756.0,349.25 764.0,353.00 772.0,347.50 780.0,346.25 788.0,348.00 796.0,359.25 804.0,355.00 812.0,356.75 820.0,366.25 828.0,373.25 836.0,359.25 844.0,356.25 852.0,355.00 860.0,350.50 868.0,342.50 876.0,338.25 884.0,348.75 892.0,359.25 900.0,353.25 908.0,364.25 916.0,371.25 924.0,382.00 932.0,366.25 940.0,360.00 948.0,362.00 956.0,362.00 964.0,370.00 972.0,371.25 980.0,371.25 988.0,371.25 996.0,366.25 1004.0,368.00 1012.0,361.25 1020.0,368.00 1028.0,363.75 1036.0,351.25 1044.0,360.75 1052.0,362.00 1060.0,360.75 1068.0,367.00 1076.0,357.50 1084.0,360.75 1092.0,367.50 1100.0,360.50 1108.0,358.75 1116.0,360.00 1124.0,367.50 1132.0,372.00 1140.0,363.75 1148.0,360.00 1156.0,369.25 1164.0,368.25 1172.0,375.00 1180.0,370.50 1188.0,370.50 1196.0,371.75 1204.0,380.75 1212.0,387.50 1220.0,390.00 1228.0,368.75 1236.0,364.25 1244.0,363.25 1252.0,364.25 1260.0,359.25 1268.0,358.25 1276.0,346.25 1284.0,343.25 1292.0,341.25" fill="none" stroke="#3d86c6" stroke-width="1" />
<path d="M4.5 484V504 M12.5 485V504 M20.5 484V504 M28.5 486V504 M36.5 488V504 M44.5 491V504 M52.5 492V504 M60.5 491V504 M68.5 490V504 M76.5 489V504 M84.5 485V504 M92.5 484V504 M100.5 481V504 M108.5 478V504 M116.5 474V504 M124.5 471V504 M132.5 469V504 M140.5 465V504 M148.5 461V504 M156.5 457V504 M164.5 456V504 M172.5 457V504 M180.5 459V504 M188.5 461V504 M196.5 462V504 M204.5 462V504 M212.5 461V504 M220.5 460V504 M228.5 459V504 M236.5 458V504 M244.5 459V504 M252.5 457V504 M260.5 456V504 M268.5 469V504 M276.5 471V504 M284.5 475V504 M292.5 476V504 M300.5 479V504 M308.5 478V504 M316.5 475V504 M324.5 473V504 M332.5 476V504 M340.5 474V504 M348.5 470V504 M356.5 462V504 M364.5 454V504 M372.5 448V504 M380.5 445V504 M388.5 445V504 M396.5 444V504 M404.5 450V504 M412.5 453V504 M420.5 461V504 M428.5 469V504 M436.5 470V504 M444.5 471V504 M452.5 473V504 M460.5 481V504 M468.5 487V504 M476.5 495V504 M484.5 505V506 M492.5 505V509 M500.5 505V522 M508.5 505V528 M516.5 505V526 M524.5 505V522 M532.5 505V517 M540.5 505V512 M548.5 505V506 M556.5 502V504 M564.5 496V504 M572.5 492V504 M580.5 488V504 M588.5 485V504 M596.5 482V504 M604.5 481V504 M612.5 479V504 M620.5 477V504 M628.5 483V504 M636.5 489V504 M644.5 494V504 M652.5 503V504 M660.5 505V506 M676.5 502V504 M684.5 499V504 M692.5 496V504 M700.5 493V504 M708.5 493V504 M716.5 493V504 M724.5 496V504 M732.5 499V504 M740.5 499V504 M748.5 497V504 M756.5 495V504 M764.5 493V504 M772.5 492V504 M780.5 490V504 M788.5 489V504 M796.5 491V504 M804.5 492V504 M812.5 494V504 M820.5 498V504 M836.5 505V506 M852.5 503V504 M860.5 500V504 M868.5 494V504 M876.5 488V504 M884.5 487V504 M892.5 490V504 M900.5 490V504 M908.5 496V504 M916.5 505V506 M924.5 505V518 M932.5 505V521 M940.5 505V520 M948.5 505V520 M956.5 505V520 M964.5 505V525 M972.5 505V529 M980.5 505V532 M988.5 505V534 M996.5 505V533 M1004.5 505V533 M1012.5 505V530 M1020.5 505V531 M1028.5 505V528 M1036.5 505V521 M1044.5 505V520 M1052.5 505V520 M1060.5 505V519 M1068.5 505V521 M1076.5 505V518 M1084.5 505V517 M1092.5 505V519 M1100.5 505V518 M1108.5 505V516 M1116.5 505V516 M1124.5 505V519 M1132.5 505V524 M1140.5 505V524 M1148.5 505V522 M1156.5 505V525 M1164.5 505V527 M1172.5 505V533 M1180.5 505V535 M1188.5 505V537 M1196.5 505V538 M1204.5 505V544 M1212.5 505V555 M1220.5 505V565 M1228.5 505V563 M1236.5 505V558 M1244.5 505V552 M1252.5 505V548 M1260.5 505V542 M1268.5 505V536 M1276.5 505V524 M1284.5 505V512 M1292.5 500V504" stroke="#1e1e96" stroke-width="1" fill="none"/>
<polyline points="0.0,472.30 4.0,473.00 12.0,474.62 20.0,476.48 28.0,478.61 36.0,481.46 44.0,484.31 52.0,486.20 60.0,487.54 68.0,488.34 76.0,488.40 84.0,488.40 92.0,488.40 100.0,488.40 108.0,487.48 116.0,485.04 124.0,482.18 132.0,479.49 140.0,476.44 148.0,473.38 156.0,470.50 164.0,467.56 172.0,465.02 180.0,463.23 188.0,461.75 196.0,460.64 204.0,460.07 212.0,459.71 220.0,459.47 228.0,459.41 236.0,459.66 244.0,460.02 252.0,460.20 260.0,459.01 268.0,459.47 276.0,460.57 284.0,462.24 292.0,464.71 300.0,467.25 308.0,469.57 316.0,472.17 324.0,474.38 332.0,475.47 340.0,475.50 348.0,475.50 356.0,473.77 364.0,469.92 372.0,466.65 380.0,463.36 388.0,460.28 396.0,457.53 404.0,455.10 412.0,452.85 420.0,451.41 428.0,451.95 436.0,453.46 444.0,455.38 452.0,458.15 460.0,461.97 468.0,466.28 476.0,471.21 484.0,476.96 492.0,482.93 500.0,488.97 508.0,495.30 516.0,501.19 524.0,506.46 532.0,511.50 540.0,513.66 548.0,514.01 556.0,514.23 564.0,514.30 572.0,511.59 580.0,506.45 588.0,501.92 596.0,497.09 604.0,492.88 612.0,489.89 620.0,487.36 628.0,485.49 636.0,484.46 644.0,484.17 652.0,485.69 660.0,488.20 668.0,490.40 676.0,491.83 684.0,493.18 692.0,495.00 700.0,497.09 708.0,498.42 716.0,498.47 724.0,498.33 732.0,498.11 740.0,497.76 748.0,497.03 756.0,496.24 764.0,495.74 772.0,495.44 780.0,495.17 788.0,494.77 796.0,494.00 804.0,493.21 812.0,492.91 820.0,493.40 828.0,494.36 836.0,495.38 844.0,496.57 852.0,497.91 860.0,498.68 868.0,498.70 876.0,498.70 884.0,498.37 892.0,497.04 900.0,495.80 908.0,494.79 916.0,494.20 924.0,494.89 932.0,496.70 940.0,498.93 948.0,502.25 956.0,506.27 964.0,510.32 972.0,515.00 980.0,519.62 988.0,522.83 996.0,525.07 1004.0,527.08 1012.0,528.72 1020.0,529.81 1028.0,530.20 1036.0,529.65 1044.0,528.43 1052.0,527.04 1060.0,525.62 1068.0,523.90 1076.0,522.11 1084.0,520.48 1092.0,519.22 1100.0,518.10 1108.0,517.17 1116.0,516.80 1124.0,517.11 1132.0,517.80 1140.0,518.52 1148.0,519.08 1156.0,519.63 1164.0,520.35 1172.0,521.56 1180.0,523.54 1188.0,525.89 1196.0,528.30 1204.0,530.96 1212.0,533.92 1220.0,537.30 1228.0,541.72 1236.0,545.89 1244.0,548.29 1252.0,549.85 1260.0,550.95 1268.0,551.24 1276.0,549.05 1284.0,544.84 1292.0,537.00" fill="none" stroke="#e2ac58" stroke-width="1" />
<rect x="1305" y="81" width="44" height="11" fill="#778899"/>
<text x="1308" y="90" font-family="Liberation Sans, sans-serif" font-size="10" fill="#ffffff" textLength="37.5" lengthAdjust="spacingAndGlyphs">25179.61</text>

<g shape-rendering="crispEdges">
<rect x="2" y="4" width="6" height="9" fill="#fff2ef"/><rect x="8" y="4" width="7" height="9" fill="#eaf6fd"/>
<path d="M8 3.5H1.5V13.5H8" fill="none" stroke="#c0504d"/><path d="M8 3.5H15.5V13.5H8" fill="none" stroke="#1f5f9f"/>
<rect x="3" y="5" width="4" height="1" fill="#c0504d"/><rect x="3" y="8" width="4" height="1" fill="#c0504d"/><rect x="3" y="11" width="4" height="1" fill="#d04030"/>
<rect x="9" y="5" width="5" height="1" fill="#1f5f9f"/><rect x="9" y="8" width="5" height="1" fill="#1f5f9f"/><rect x="9" y="11" width="5" height="1" fill="#1f5f9f"/>
<path d="M22.5 3.5H26.5V7.5H28.5V13.5H22.5Z" fill="#fcd0c8" stroke="#c0504d"/>
<path d="M30.5 13.5V7.5H33.5V3.5H36.5V13.5Z" fill="#c8e4fa" stroke="#1f5f9f"/>
<rect x="27.5" y="3.5" width="4" height="2" fill="#ffffff" stroke="#909090"/>
</g>
</svg></body></html>
